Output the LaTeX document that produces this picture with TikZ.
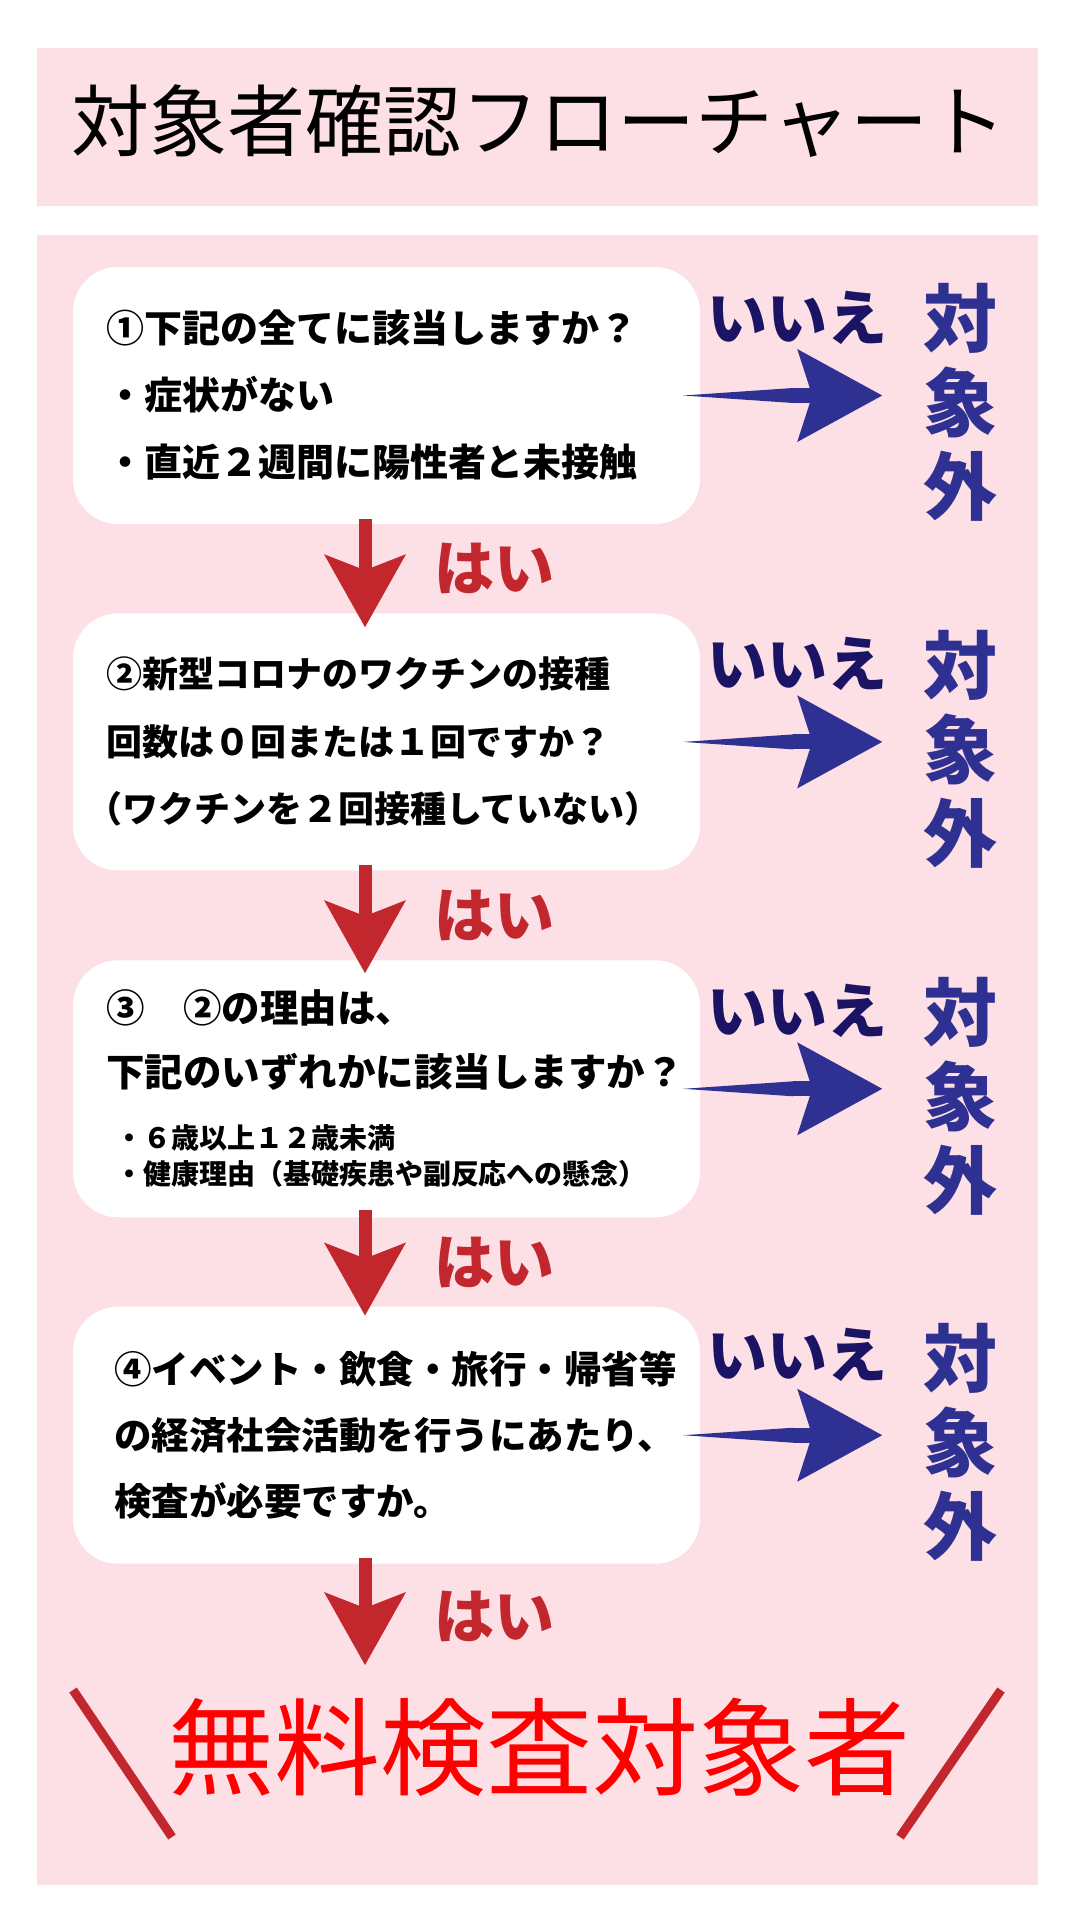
\documentclass[tikz,border=0pt]{standalone}
\usepackage{fontspec}
\usepackage{xcolor}
\usepackage{tikz}
\usetikzlibrary{arrows.meta,positioning,calc}
\newfontfamily\jpfont{Noto Sans CJK JP}
\definecolor{bgpink}{RGB}{253,223,230}
\definecolor{yesred}{RGB}{193,39,45}
\definecolor{noblue}{RGB}{46,49,146}
\definecolor{noink}{RGB}{27,20,100}
\tikzset{
    panel/.style={fill=bgpink,minimum width=1001pt,inner sep=0pt},
    qbox/.style={fill=white,rounded corners=45pt,minimum height=257pt,text width=561pt,inner xsep=33pt,inner ysep=0pt,align=left},
    yeslbl/.style={text=yesred,inner sep=0pt,font=\jpfont\bfseries\fontsize{60pt}{60pt}\selectfont},
    nolbl/.style={text=noink,inner sep=0pt,font=\jpfont\bfseries\fontsize{60pt}{60pt}\selectfont},
    outlbl/.style={text=noblue,inner sep=0pt,align=center,font=\jpfont\bfseries\fontsize{74pt}{84pt}\selectfont},
    yesarr/.style={draw=yesred,line width=13pt,-{Stealth[length=73pt,width=82pt,inset=16pt,line width=0pt]}},
    noarr/.style={draw=noblue,line width=15pt,{Triangle[length=110pt,width=15pt,line width=0pt]}-{Stealth[length=85pt,width=93pt,inset=15pt,line width=0pt]}},
    slash/.style={draw=yesred,line width=9pt}
}
\newcommand{\smallline}{\fontsize{28pt}{36pt}\selectfont}

\begin{document}
\begin{tikzpicture}[x=1pt,y=-1pt]
    \path[fill=white,use as bounding box] (0,0) rectangle (1080,1920);
    \node[panel,minimum height=158pt] (toppanel) at (537.5,127) {};
    \node[panel,minimum height=1650pt] (mainpanel) at (537.5,1060) {};
    \node[inner sep=0pt,font=\jpfont\fontsize{78pt}{78pt}\selectfont] (title) at (539,121.5) {対象者確認フローチャート};

    \node[qbox,font=\jpfont\bfseries\fontsize{38pt}{67pt}\selectfont] (q1) at (386.5,395.5)
        {①下記の全てに該当しますか？\\・症状がない\\・直近２週間に陽性者と未接触};
    \node[qbox,below=89pt of q1,font=\jpfont\bfseries\fontsize{36pt}{67.5pt}\selectfont] (q2)
        {②新型コロナのワクチンの接種\\回数は０回または１回ですか？\\\hspace*{-20pt}（ワクチンを２回接種していない）};
    \node[qbox,below=89.5pt of q2,font=\jpfont\bfseries\fontsize{38.5pt}{64pt}\selectfont] (q3)
        {③　②の理由は、\\下記のいずれかに該当しますか？\\[-2pt]
         \hspace*{9pt}{\smallline ・６歳以上１２歳未満}\\[-28pt]
         \hspace*{9pt}{\smallline ・健康理由（基礎疾患や副反応への懸念）}};
    \node[qbox,below=89pt of q3,text width=545pt,inner xsep=41pt,font=\jpfont\bfseries\fontsize{37.5pt}{66pt}\selectfont] (q4)
        {④イベント・飲食・旅行・帰省等\\の経済社会活動を行うにあたり、\\検査が必要ですか。};

    \draw[yesarr] ([xshift=-21.5pt,yshift=5pt]q1.south) -- ([xshift=-21.5pt,yshift=-14pt]q2.north);
    \draw[yesarr] ([xshift=-21.5pt,yshift=6pt]q2.south) -- ([xshift=-21.5pt,yshift=-13pt]q3.north);
    \draw[yesarr] ([xshift=-21.5pt,yshift=8pt]q3.south) -- ([xshift=-21.5pt,yshift=-9pt]q4.north);
    \coordinate (yesend) at (365,1665);
    \draw[yesarr] ([xshift=-21.5pt,yshift=6pt]q4.south) -- (yesend);

    \node[yeslbl] (yes1) at ($(q1.south)!.5!(q2.north)+(108,0)$) {はい};
    \node[yeslbl] (yes2) at ($(q2.south)!.5!(q3.north)+(108,0)$) {はい};
    \node[yeslbl] (yes3) at ($(q3.south)!.5!(q4.north)+(108,0)$) {はい};
    \node[yeslbl] (yes4) at (494.5,1616) {はい};

    \coordinate (noend1) at ([xshift=182pt]q1.east);
    \coordinate (noend2) at ([xshift=182pt]q2.east);
    \coordinate (noend3) at ([xshift=182pt]q3.east);
    \coordinate (noend4) at ([xshift=182pt]q4.east);
    \draw[noarr] ([xshift=-17pt]q1.east) -- (noend1);
    \draw[noarr] ([xshift=-17pt]q2.east) -- (noend2);
    \draw[noarr] ([xshift=-17pt]q3.east) -- (noend3);
    \draw[noarr] ([xshift=-17pt]q4.east) -- (noend4);

    \node[nolbl] (no1) at ([xshift=97pt,yshift=78pt]q1.east) {いいえ};
    \node[nolbl] (no2) at ([xshift=97pt,yshift=78pt]q2.east) {いいえ};
    \node[nolbl] (no3) at ([xshift=97pt,yshift=78pt]q3.east) {いいえ};
    \node[nolbl] (no4) at ([xshift=97pt,yshift=80pt]q4.east) {いいえ};
    \node[outlbl] (out1) at ([xshift=260pt,yshift=-7pt]q1.east) {対\\象\\外};
    \node[outlbl] (out2) at ([xshift=260pt,yshift=-7pt]q2.east) {対\\象\\外};
    \node[outlbl] (out3) at ([xshift=260pt,yshift=-7pt]q3.east) {対\\象\\外};
    \node[outlbl] (out4) at ([xshift=260pt,yshift=-7pt]q4.east) {対\\象\\外};

    \node[inner sep=0pt,text=red,font=\jpfont\fontsize{106pt}{106pt}\selectfont] (result) at (539,1747) {無料検査対象者};
    \draw[slash] (73,1690) -- (172,1837);
    \draw[slash] (1001,1690) -- (900,1837);
\end{tikzpicture}
\end{document}
